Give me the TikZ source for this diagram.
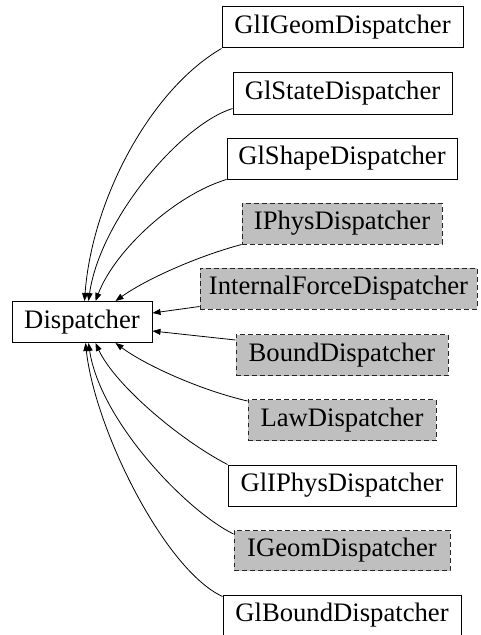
\documentclass[tikz,border=0pt]{standalone}
\usepackage{fontspec}
\setmainfont{Liberation Serif}
\usetikzlibrary{calc,arrows.meta}
\definecolor{boxgray}{HTML}{BFBFBF}
\tikzset{
  cls/.style={draw=black, line width=0.75pt, minimum height=30.75pt, inner sep=0pt,
    font=\fontsize{20}{24}\selectfont, fill=white},
  ext/.style={cls, fill=boxgray, draw=black!85, dash pattern=on 3.5pt off 2.5pt},
  inh/.style={draw=black, line width=0.6pt, -{Triangle[length=6pt,width=4.5pt]}},
}
\begin{document}
\begin{tikzpicture}[x=0.75pt,y=-0.75pt]
\useasboundingbox (0,0) rectangle (480,635);
\node[cls, minimum width=180.75pt] (g1) at (342.5,27.5) {GlIGeomDispatcher};
\node[cls, minimum width=164.25pt] (g2) at (342.5,93.5) {GlStateDispatcher};
\node[cls, minimum width=172.5pt] (g3) at (342,158.5) {GlShapeDispatcher};
\node[ext, minimum width=150pt] (g4) at (342,223.5) {IPhysDispatcher};
\node[ext, minimum width=207.75pt] (g5) at (338.5,288.5) {InternalForceDispatcher};
\node[cls, minimum width=105pt] (disp) at (82,322) {Dispatcher};
\node[ext, minimum width=159pt] (g7) at (342,355) {BoundDispatcher};
\node[ext, minimum width=141pt] (g8) at (342,420) {LawDispatcher};
\node[cls, minimum width=171pt] (g9) at (342,485.5) {GlIPhysDispatcher};
\node[ext, minimum width=162pt, minimum height=30pt] (g10) at (342,550.5) {IGeomDispatcher};
\node[cls, minimum width=178.5pt] (g11) at (342,615.5) {GlBoundDispatcher};

\draw[inh] (g1.south west) .. controls (150,90) and (92,200) .. ($(disp.north west)+(73,0)$);
\draw[inh] ($(g2.south west)+(0,-6)$) .. controls (180,125) and (100,220) .. ($(disp.north west)+(77,0)$);
\draw[inh] (g3.south west) .. controls (175,195) and (115,250) .. ($(disp.north west)+(84,0)$);
\draw[inh] (g4.south west) .. controls (195,257) and (145,280) .. ($(disp.north west)+(104,0)$);
\draw[inh] ($(g5.south west)+(0,-3)$) -- ($(disp.east)+(0,-9)$);
\draw[inh] ($(g7.north west)+(0,6)$) -- ($(disp.east)+(0,9)$);
\draw[inh] ($(g8.north west)+(0,2)$) .. controls (200,390) and (145,365) .. ($(disp.south west)+(104,0)$);
\draw[inh] (g9.north west) .. controls (180,440) and (115,385) .. ($(disp.south west)+(84,0)$);
\draw[inh] ($(g10.north west)+(0,4)$) .. controls (185,510) and (100,420) .. ($(disp.south west)+(77,0)$);
\draw[inh] ($(g11.north west)+(0,2)$) .. controls (165,570) and (95,430) .. ($(disp.south west)+(74,0)$);
\end{tikzpicture}
\end{document}
